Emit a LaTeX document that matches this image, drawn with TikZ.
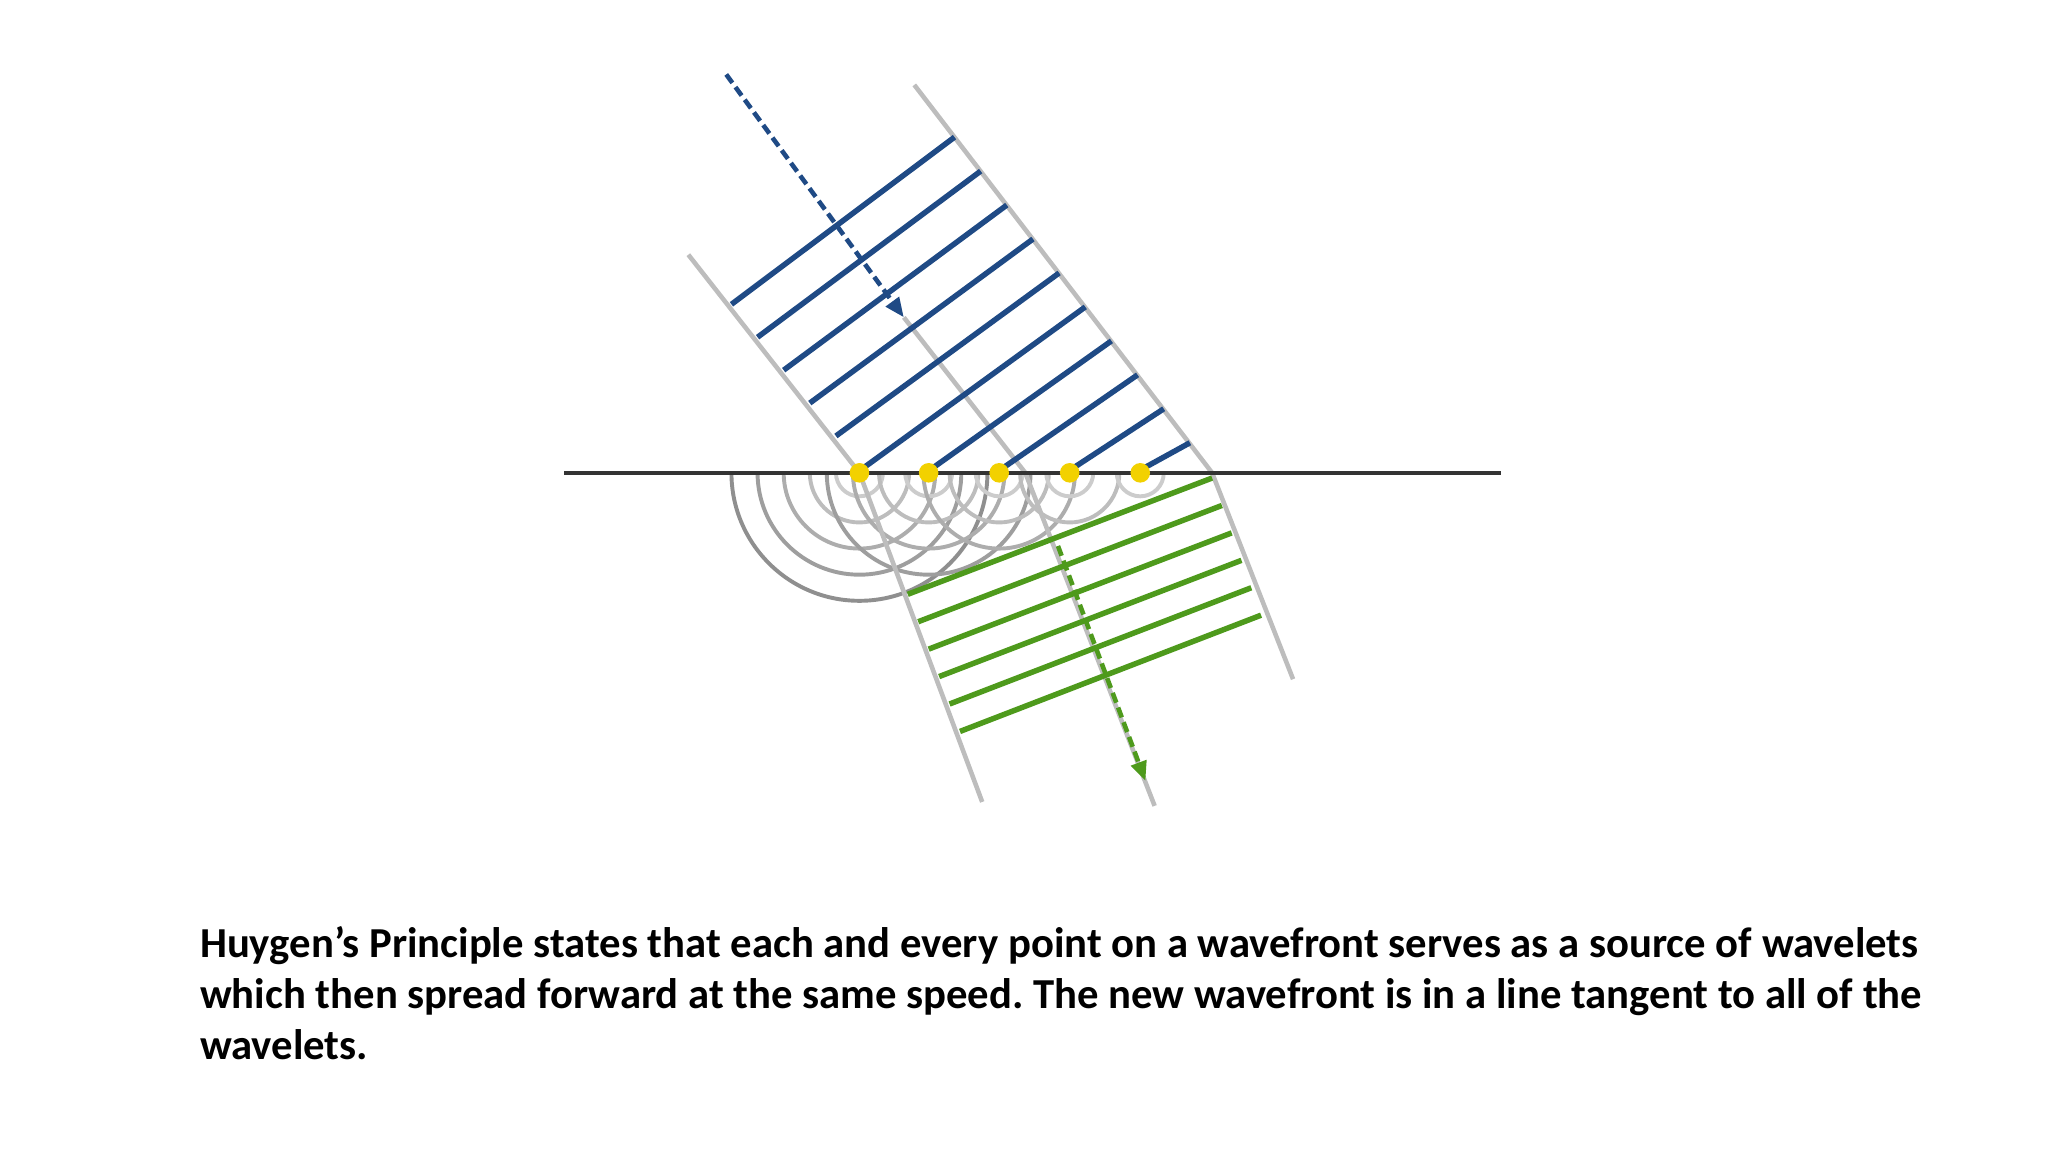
\documentclass[tikz,border=0pt]{standalone}
\usepackage{fontspec}
\setmainfont{Carlito}
\frenchspacing
\usetikzlibrary{arrows.meta}
\definecolor{wblue}{HTML}{1F4A85}
\definecolor{wgreen}{HTML}{4E9A1C}
\definecolor{wgray}{HTML}{BDBDBD}
\definecolor{wyellow}{HTML}{F2D100}
\tikzset{ray/.style={wgray,line width=3.5pt},
 bluefront/.style={wblue,line width=4.2pt},
 greenfront/.style={wgreen,line width=4.2pt},
 wavelet/.style={line width=3pt},
 dotsrc/.style={circle,fill=wyellow,inner sep=0pt,minimum size=15pt},
 txt/.style={anchor=base west,inner sep=0pt,font=\fontsize{32.7}{39}\selectfont\bfseries}}
\begin{document}
\begin{tikzpicture}[x=1pt,y=-1pt]
\useasboundingbox (0,0) rectangle (1568,882);
% wavelets
\foreach \cx/\n in {658/5,711/4,765/3,819/2,873/1}{
 \foreach \k in {1,...,\n}{
  \pgfmathsetmacro{\r}{20*\k-2}
  \pgfmathsetmacro{\sh}{14+6*\k}
  \draw[wavelet,black!\sh] (\cx-\r,362) arc[start angle=180,end angle=0,radius=\r];
 }}
% rays
\coordinate (L0) at (527,195); \coordinate (L1) at (658,362); \coordinate (L2) at (752,614);
\coordinate (M1) at (785,362); \coordinate (M2) at (884,617); \coordinate (Mt) at (692,243);
\coordinate (R0) at (700,65); \coordinate (R1) at (928,362); \coordinate (R2) at (990,520);
\draw[ray] (L0)--(L1)--(L2);
\draw[ray] (Mt)--(M1)--(M2);
\draw[ray] (R0)--(R1)--(R2);
% blue fronts
\foreach \i in {0,...,9}{
 \pgfmathsetmacro{\ry}{105+26*\i}
 \pgfmathsetmacro{\rx}{700+0.77*(\ry-65)}
 \ifnum\i<6
  \pgfmathsetmacro{\ly}{233+25.2*\i}
  \pgfmathsetmacro{\lx}{560+20*\i}
 \else
  \pgfmathsetmacro{\lx}{658+53.7*(\i-5)}
  \pgfmathsetmacro{\ly}{360}
 \fi
 \draw[bluefront] (\lx,\ly)--(\rx,\ry);
}
% green fronts
\foreach \i in {0,...,5}{
 \draw[greenfront] (695+8*\i,455+21*\i)--(928+7.5*\i,366+21*\i);
}
% arrows
\coordinate (A0) at (556,57);
\draw[wblue,line width=3.5pt,dash pattern=on 8pt off 4pt,-{Triangle[length=15pt,width=12pt]}] (A0)--(Mt);
\coordinate (G0) at (810,418); \coordinate (G1) at (877,598);
\draw[wgreen,line width=3.5pt,dash pattern=on 8pt off 4pt,-{Triangle[length=15pt,width=12pt]}] (G0)--(G1);
% interface
\coordinate (I0) at (432,362); \coordinate (I1) at (1149,362);
\draw[black!80,line width=2.8pt] (I0)--(I1);
\foreach \x/\n in {658/d1,711/d2,765/d3,819/d4,873/d5}{\node[dotsrc] (\n) at (\x,362) {};}
% text
\node[txt] (t1) at (153,733) {Huygen’s Principle states that each and every point on a wavefront serves as a source of wavelets};
\node[txt] (t2) at (153,772) {which then spread forward at the same speed. The new wavefront is in a line tangent to all of the};
\node[txt] (t3) at (153,811) {wavelets.};
\end{tikzpicture}
\end{document}
